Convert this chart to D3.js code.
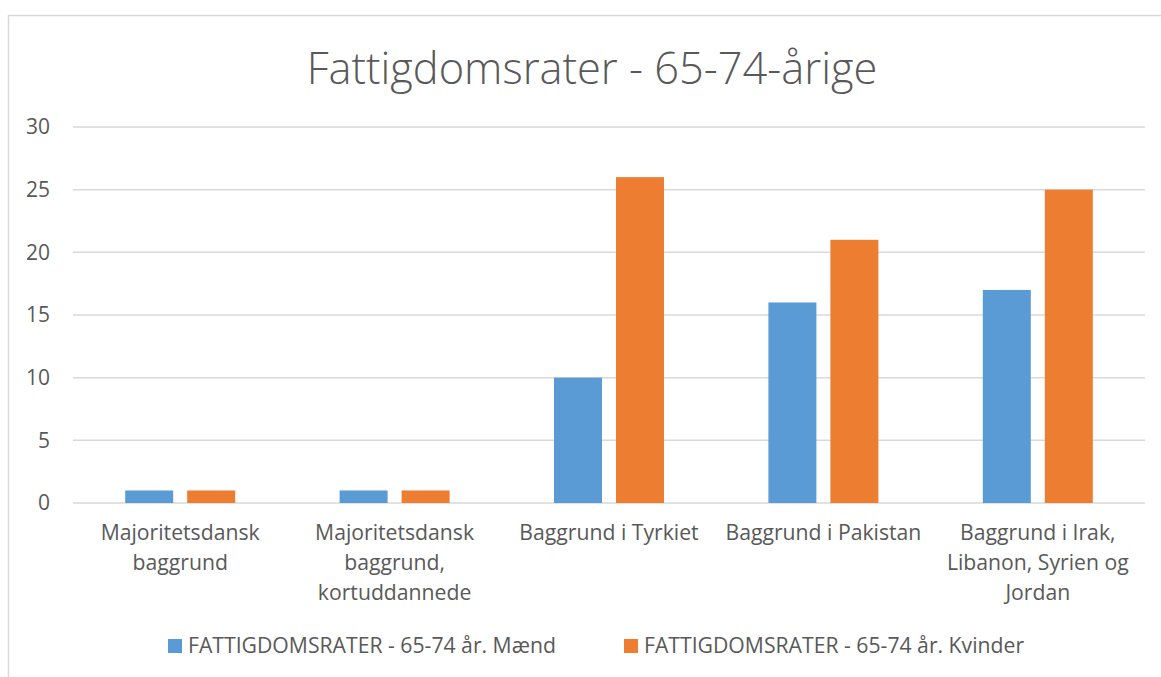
<!DOCTYPE html>
<html><head><meta charset="utf-8">
<script src="https://cdn.jsdelivr.net/npm/d3@7"></script>
<style>body{margin:0;background:#fff}svg{display:block}</style>
</head><body>
<svg id="c" width="1161" height="677"></svg>
<script>
const categories = [
  ["Majoritetsdansk","baggrund"],
  ["Majoritetsdansk","baggrund,","kortuddannede"],
  ["Baggrund i Tyrkiet"],
  ["Baggrund i Pakistan"],
  ["Baggrund i Irak,","Libanon, Syrien og","Jordan"]
];
const seriesNames = ["FATTIGDOMSRATER - 65-74 år. Mænd","FATTIGDOMSRATER - 65-74 år. Kvinder"];
const maend = [1,1,10,16,17];
const kvinder = [1,1,26,21,25];
const yTicks = [0,5,10,15,20,25,30];
const colors = ["#5b9bd5","#ed7d31"];
const title = "Fattigdomsrater - 65-74-årige";

const svg = d3.select("#c");
const font = "'Open Sans', Lato, sans-serif";
const txt = "#595959";

// chart border
svg.append("rect").attr("x",8.5).attr("y",15.5).attr("width",1170).attr("height",700)
  .attr("fill","none").attr("stroke","#d9d9d9").attr("stroke-width",1.5);

const L=73,R=1145,T=127,B=503;
const x = d3.scaleBand().domain(d3.range(categories.length)).range([L,R]);
const y = d3.scaleLinear().domain([0,30]).range([B,T]);

// grid
svg.append("g").selectAll("line").data(yTicks).join("line")
  .attr("x1",L).attr("x2",R).attr("y1",d=>y(d)).attr("y2",d=>y(d))
  .attr("stroke","#d9d9d9").attr("stroke-width",1.5);

// y labels
svg.append("g").selectAll("text").data(yTicks).join("text")
  .attr("x",50).attr("y",d=>y(d)).attr("dy","0.35em").attr("text-anchor","end")
  .attr("font-family",font).attr("font-size",21).attr("fill",txt).text(d=>d);

const bw=48, gap=14;
const data=[maend,kvinder];
data.forEach((s,si)=>{
  svg.append("g").selectAll("rect").data(s).join("rect")
    .attr("x",(d,i)=>x(i)+x.bandwidth()/2 - (bw+gap/2) + si*(bw+gap))
    .attr("y",d=>y(d)).attr("width",bw).attr("height",d=>B-y(d))
    .attr("fill",colors[si]);
});

// category labels
const cg = svg.append("g");
categories.forEach((lines,i)=>{
  const t = cg.append("text").attr("text-anchor","middle")
    .attr("font-family",font).attr("font-size",21.2).attr("fill",txt);
  lines.forEach((ln,j)=>{
    t.append("tspan").attr("x",x(i)+x.bandwidth()/2).attr("y",540+j*30).text(ln);
  });
});

// title
svg.append("text").attr("x",592).attr("y",84).attr("text-anchor","middle")
  .attr("font-family",font).attr("font-weight",300).attr("font-size",43.4).attr("fill",txt).text(title);

// legend
const lx=[168,624];
seriesNames.forEach((n,i)=>{
  svg.append("rect").attr("x",lx[i]).attr("y",639).attr("width",14).attr("height",14).attr("fill",colors[i]);
  svg.append("text").attr("x",lx[i]+20).attr("y",646).attr("dy","0.35em")
    .attr("font-family",font).attr("font-size",21.2).attr("fill",txt).text(n);
});
</script>
</body></html>
